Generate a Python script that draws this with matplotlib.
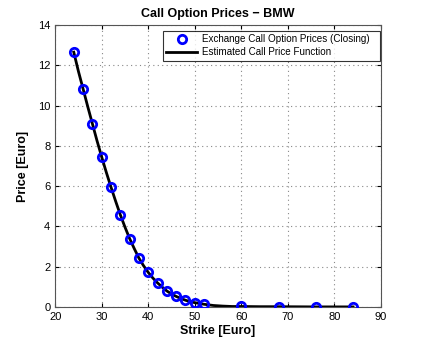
import matplotlib
matplotlib.use("Agg")
import matplotlib.pyplot as plt

plt.rcParams['font.family'] = ['Liberation Sans', 'DejaVu Sans']

strikes = [24, 26, 28, 30, 32, 34, 36, 38, 40, 42, 44, 46, 48, 50, 52, 60, 68, 76, 84]
prices = [12.65, 10.83, 9.1, 7.45, 5.95, 4.58, 3.4, 2.43, 1.72, 1.2, 0.8, 0.53, 0.34, 0.22, 0.15, 0.03, 0.02, 0.01, 0.01]

curve_strikes = [24, 25, 26, 27, 28, 29, 30, 31, 32, 33, 34, 35, 36, 37, 38, 39, 40, 41, 42, 43, 44, 45, 46, 47, 48, 49, 50, 51, 52, 54, 56, 58, 60, 64, 68, 76, 84]
curve_prices = [12.65, 11.7, 10.83, 9.95, 9.1, 8.25, 7.45, 6.68, 5.95, 5.25, 4.58, 3.97, 3.4, 2.9, 2.43, 2.05, 1.72, 1.44, 1.2, 0.99, 0.8, 0.65, 0.53, 0.43, 0.34, 0.27, 0.22, 0.18, 0.14, 0.08, 0.05, 0.03, 0.03, 0.02, 0.02, 0.01, 0.01]

fig = plt.figure(figsize=(4.21, 3.47), dpi=100)
ax = fig.add_axes([0.131, 0.115, 0.774, 0.813])

ax.plot(strikes, prices, 'o', markerfacecolor='none', markeredgecolor='#0000ff',
        markeredgewidth=2, markersize=6, label='Exchange Call Option Prices (Closing)', zorder=3)
ax.plot(curve_strikes, curve_prices, '-', color='black', linewidth=2,
        label='Estimated Call Price Function', zorder=2)

ax.set_xlim(20, 90)
ax.set_ylim(0, 14)
ax.set_xticks(range(20, 91, 10))
ax.set_yticks(range(0, 15, 2))
ax.grid(True, linestyle=(0, (1, 3)), color='#888888', linewidth=0.8)
ax.tick_params(direction='in', labelsize=8, length=3, top=True, right=True)
for s in ax.spines.values():
    s.set_color('#555555')
    s.set_linewidth(0.8)

ax.set_xlabel('Strike [Euro]', fontsize=9, fontweight='bold', labelpad=2)
ax.set_ylabel('Price [Euro]', fontsize=9, fontweight='bold', labelpad=6)
ax.set_title('Call Option Prices \u2212 BMW', fontsize=9, fontweight='bold', pad=6)

leg = ax.legend(loc='upper left', bbox_to_anchor=(0.331, 0.0, 0.666, 0.979),
                mode='expand', fontsize=7.1,
                frameon=True, fancybox=False, edgecolor='black', borderpad=0.35,
                handlelength=3.1, handletextpad=0.5, labelspacing=0.3,
                borderaxespad=0)
leg.get_frame().set_linewidth(0.8)

fig.savefig('out.png', dpi=100)
